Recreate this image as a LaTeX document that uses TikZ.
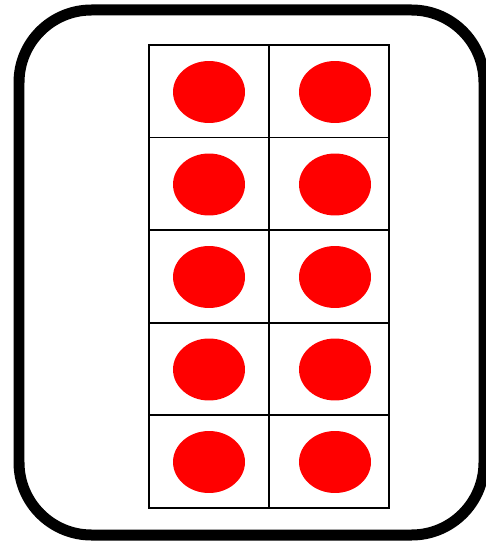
\documentclass[tikz,border=0pt]{standalone}
\usepackage{xcolor}
\usetikzlibrary{shapes.geometric}
\definecolor{framered}{RGB}{255,0,0}

\begin{document}
\begin{tikzpicture}[x=0.02cm,y=-0.02cm]
  \useasboundingbox (0,0) rectangle (485,544);
  % outer frame
  \draw[black,line width=0.22cm,rounded corners=1.45cm](19,10)rectangle(484,535);
  % ten frame
  \foreach \r in {0,...,4}{
    \draw[black,line width=0.04cm](149,45+92.5*\r)rectangle(269,45+92.5*\r+92.5);
    \draw[black,line width=0.04cm](269,45+92.5*\r)rectangle(389,45+92.5*\r+92.5);
    \node[ellipse,fill=framered,minimum width=1.44cm,minimum height=1.24cm,inner sep=0pt]
      (dotL\r) at (209,92+92.5*\r) {};
    \node[ellipse,fill=framered,minimum width=1.44cm,minimum height=1.24cm,inner sep=0pt]
      (dotR\r) at (335,92+92.5*\r) {};
  }
\end{tikzpicture}
\end{document}
